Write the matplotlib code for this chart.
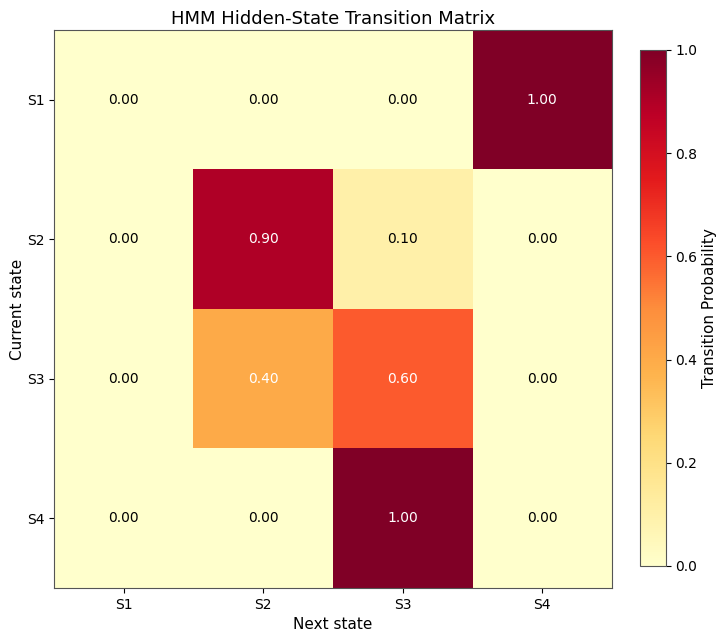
import numpy as np
import matplotlib
matplotlib.use("Agg")
import matplotlib.pyplot as plt

states = ["S1", "S2", "S3", "S4"]
trans = np.array([
    [0.00, 0.00, 0.00, 1.00],
    [0.00, 0.90, 0.10, 0.00],
    [0.00, 0.40, 0.60, 0.00],
    [0.00, 0.00, 1.00, 0.00],
])

fig = plt.figure(figsize=(7.22, 6.35), dpi=100)
ax = fig.add_axes([0.0748, 0.074, 0.7729, 0.8787])
cax = fig.add_axes([0.886, 0.1087, 0.036, 0.8126])

im = ax.imshow(trans, cmap="YlOrRd", vmin=0, vmax=1, aspect="auto")

for i in range(len(states)):
    for j in range(len(states)):
        v = trans[i, j]
        ax.text(j, i, f"{v:.2f}", ha="center", va="center",
                color="white" if v > 0.3 else "black", fontsize=10)

ax.set_xticks(range(len(states)))
ax.set_xticklabels(states)
ax.set_yticks(range(len(states)))
ax.set_yticklabels(states)
ax.set_xlabel("Next state", fontsize=11)
ax.set_ylabel("Current state", fontsize=11, labelpad=1)
ax.set_title("HMM Hidden-State Transition Matrix", fontsize=13, pad=4)
for s in ax.spines.values():
    s.set_edgecolor("#555555")

cb = fig.colorbar(im, cax=cax)
cb.set_label("Transition Probability", fontsize=11, labelpad=3)
cb.outline.set_edgecolor("#555555")

fig.savefig("out.png", dpi=100)
